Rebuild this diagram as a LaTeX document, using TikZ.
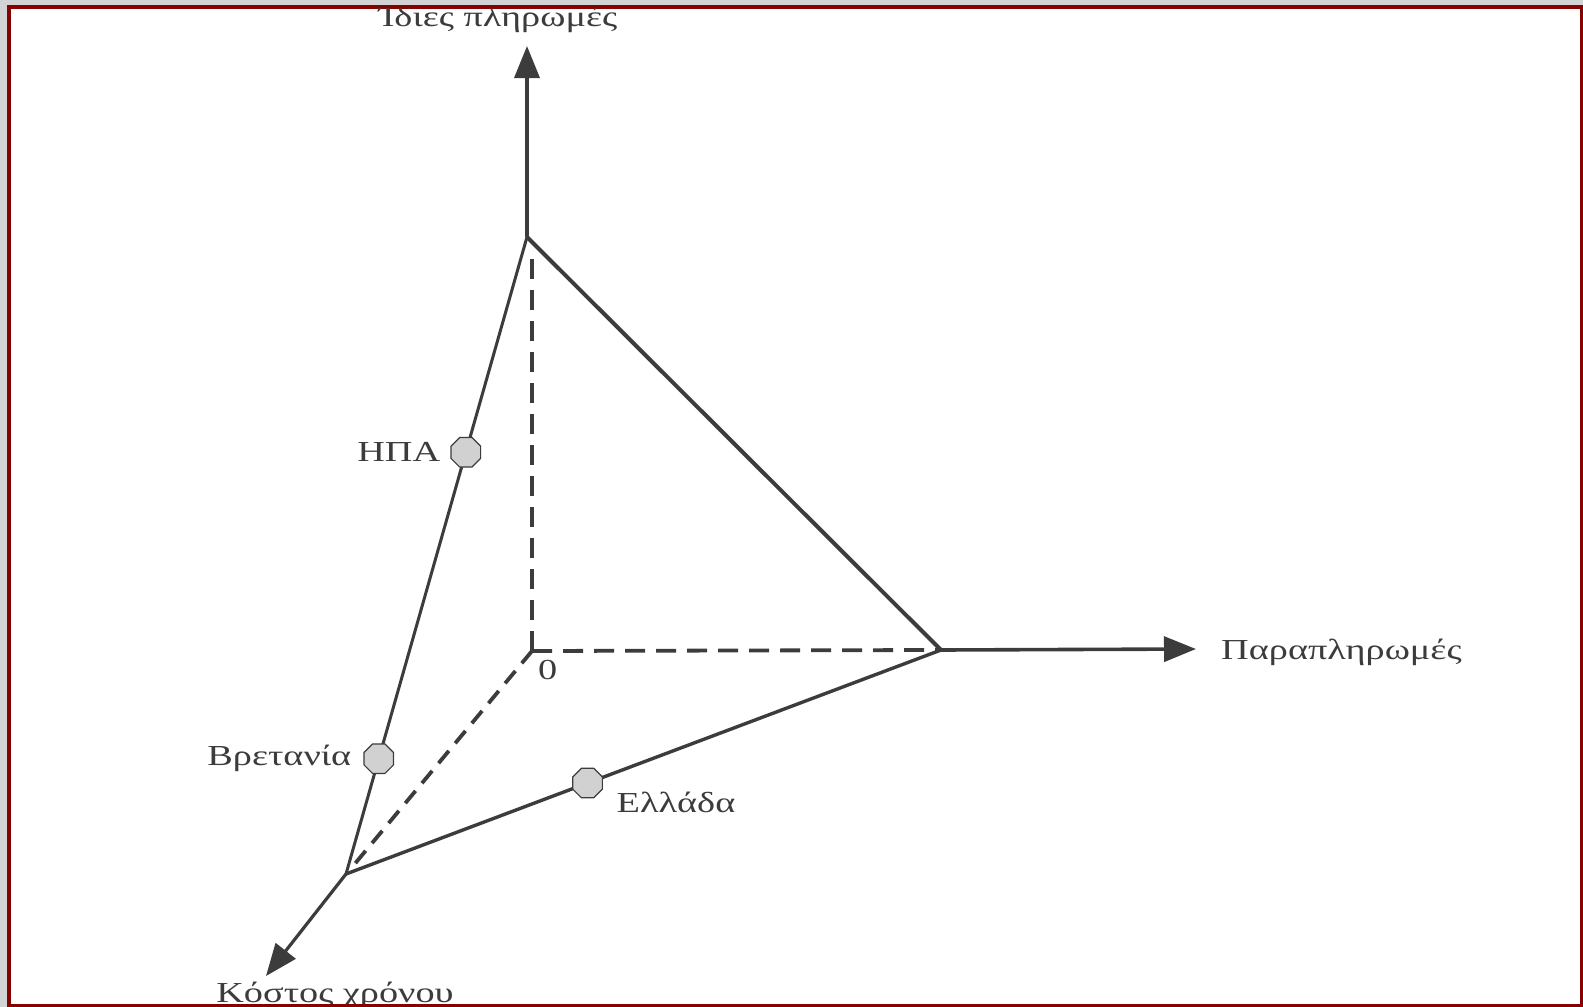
\documentclass[tikz,border=0pt]{standalone}
\usepackage{fontspec}
\setmainfont[FakeStretch=1.32]{Liberation Serif}
\usepackage{xcolor}
\usepackage{tikz}
\usetikzlibrary{calc}
\usetikzlibrary{positioning}
\usetikzlibrary{arrows.meta}
\usetikzlibrary{shapes.geometric}

\definecolor{framered}{HTML}{870000}
\definecolor{framegray}{HTML}{D2D3D5}
\definecolor{ink}{HTML}{3C3C3C}

\begin{document}
\begin{tikzpicture}[x=1pt,y=-1pt,font=\fontsize{29}{34}\selectfont,
      axis style/.style={draw=ink,line width=3.6pt,-{Triangle[length=32pt,width=25pt]}},
      edge style/.style={draw=ink,line width=3pt},
      back style/.style={draw=ink,line width=3.8pt,dash pattern=on 20pt off 11pt},
      country style/.style={regular polygon,regular polygon sides=8,draw=ink,
        line width=1.2pt,fill=black!18,minimum size=32pt,inner sep=0pt},
      label style/.style={text=ink,inner sep=2pt}
      ]

      \useasboundingbox (0,0) rectangle (1583,1007);
      \fill[framegray] (0,0) rectangle (1583,1007);
      \filldraw[fill=white,draw=framered,line width=3.5pt] (8.75,7) rectangle (1581.25,1005.25);

      \begin{scope}
      \clip (10.5,8.75) rectangle (1579.5,1003.5);

      \coordinate (orig) at (532,651);
      \coordinate (top) at (527,237);
      \coordinate (right) at (941,650);
      \coordinate (front) at (346,874);
      \coordinate (toptip) at (527,46);
      \coordinate (righttip) at (1196,649);
      \coordinate (fronttip) at (266,976);
      \coordinate (dashtop) at (532,250);
      \coordinate (dashfront) at (353,866);

      % hidden edges
      \draw[back style] (orig) -- (dashtop);
      \draw[back style] (orig) -- (right);
      \draw[back style,dash pattern=on 16pt off 10pt] (orig) -- (dashfront);

      % axes
      \draw[axis style] (top) -- (toptip);
      \draw[axis style] (right) -- (righttip);
      \draw[axis style,line width=3.2pt] (front) -- (fronttip);

      % triangle
      \draw[edge style,line width=4pt] (top) -- (right);
      \draw[edge style] (front) -- (top);
      \draw[edge style,line width=3.4pt] (front) -- (right);

      \node[country style] (usa) at ($(front)!0.662!(top)$) {};
      \node[country style] (uk) at ($(front)!0.181!(top)$) {};
      \node[country style] (greece) at ($(front)!0.406!(right)$) {};

      \node[label style, left=8pt of usa] (usalab) {ΗΠΑ};
      \node[label style, left=10pt of uk] (uklab) {Βρετανία};
      \node[label style, below right=-4pt and 16pt of greece] (greecelab) {Ελλάδα};

      \node[label style, anchor=base] (toplab) at (498,26) {Ίδιες πληρωμές};
      \node[label style, anchor=base west] (rightlab) at (1219,659) {Παραπληρωμές};
      \node[label style, anchor=base] (frontlab) at (335,1002) {Κόστος χρόνου};
      \node[label style, anchor=north west] (origlab) at (536,658) {0};
      \end{scope}

    \end{tikzpicture}
\end{document}
